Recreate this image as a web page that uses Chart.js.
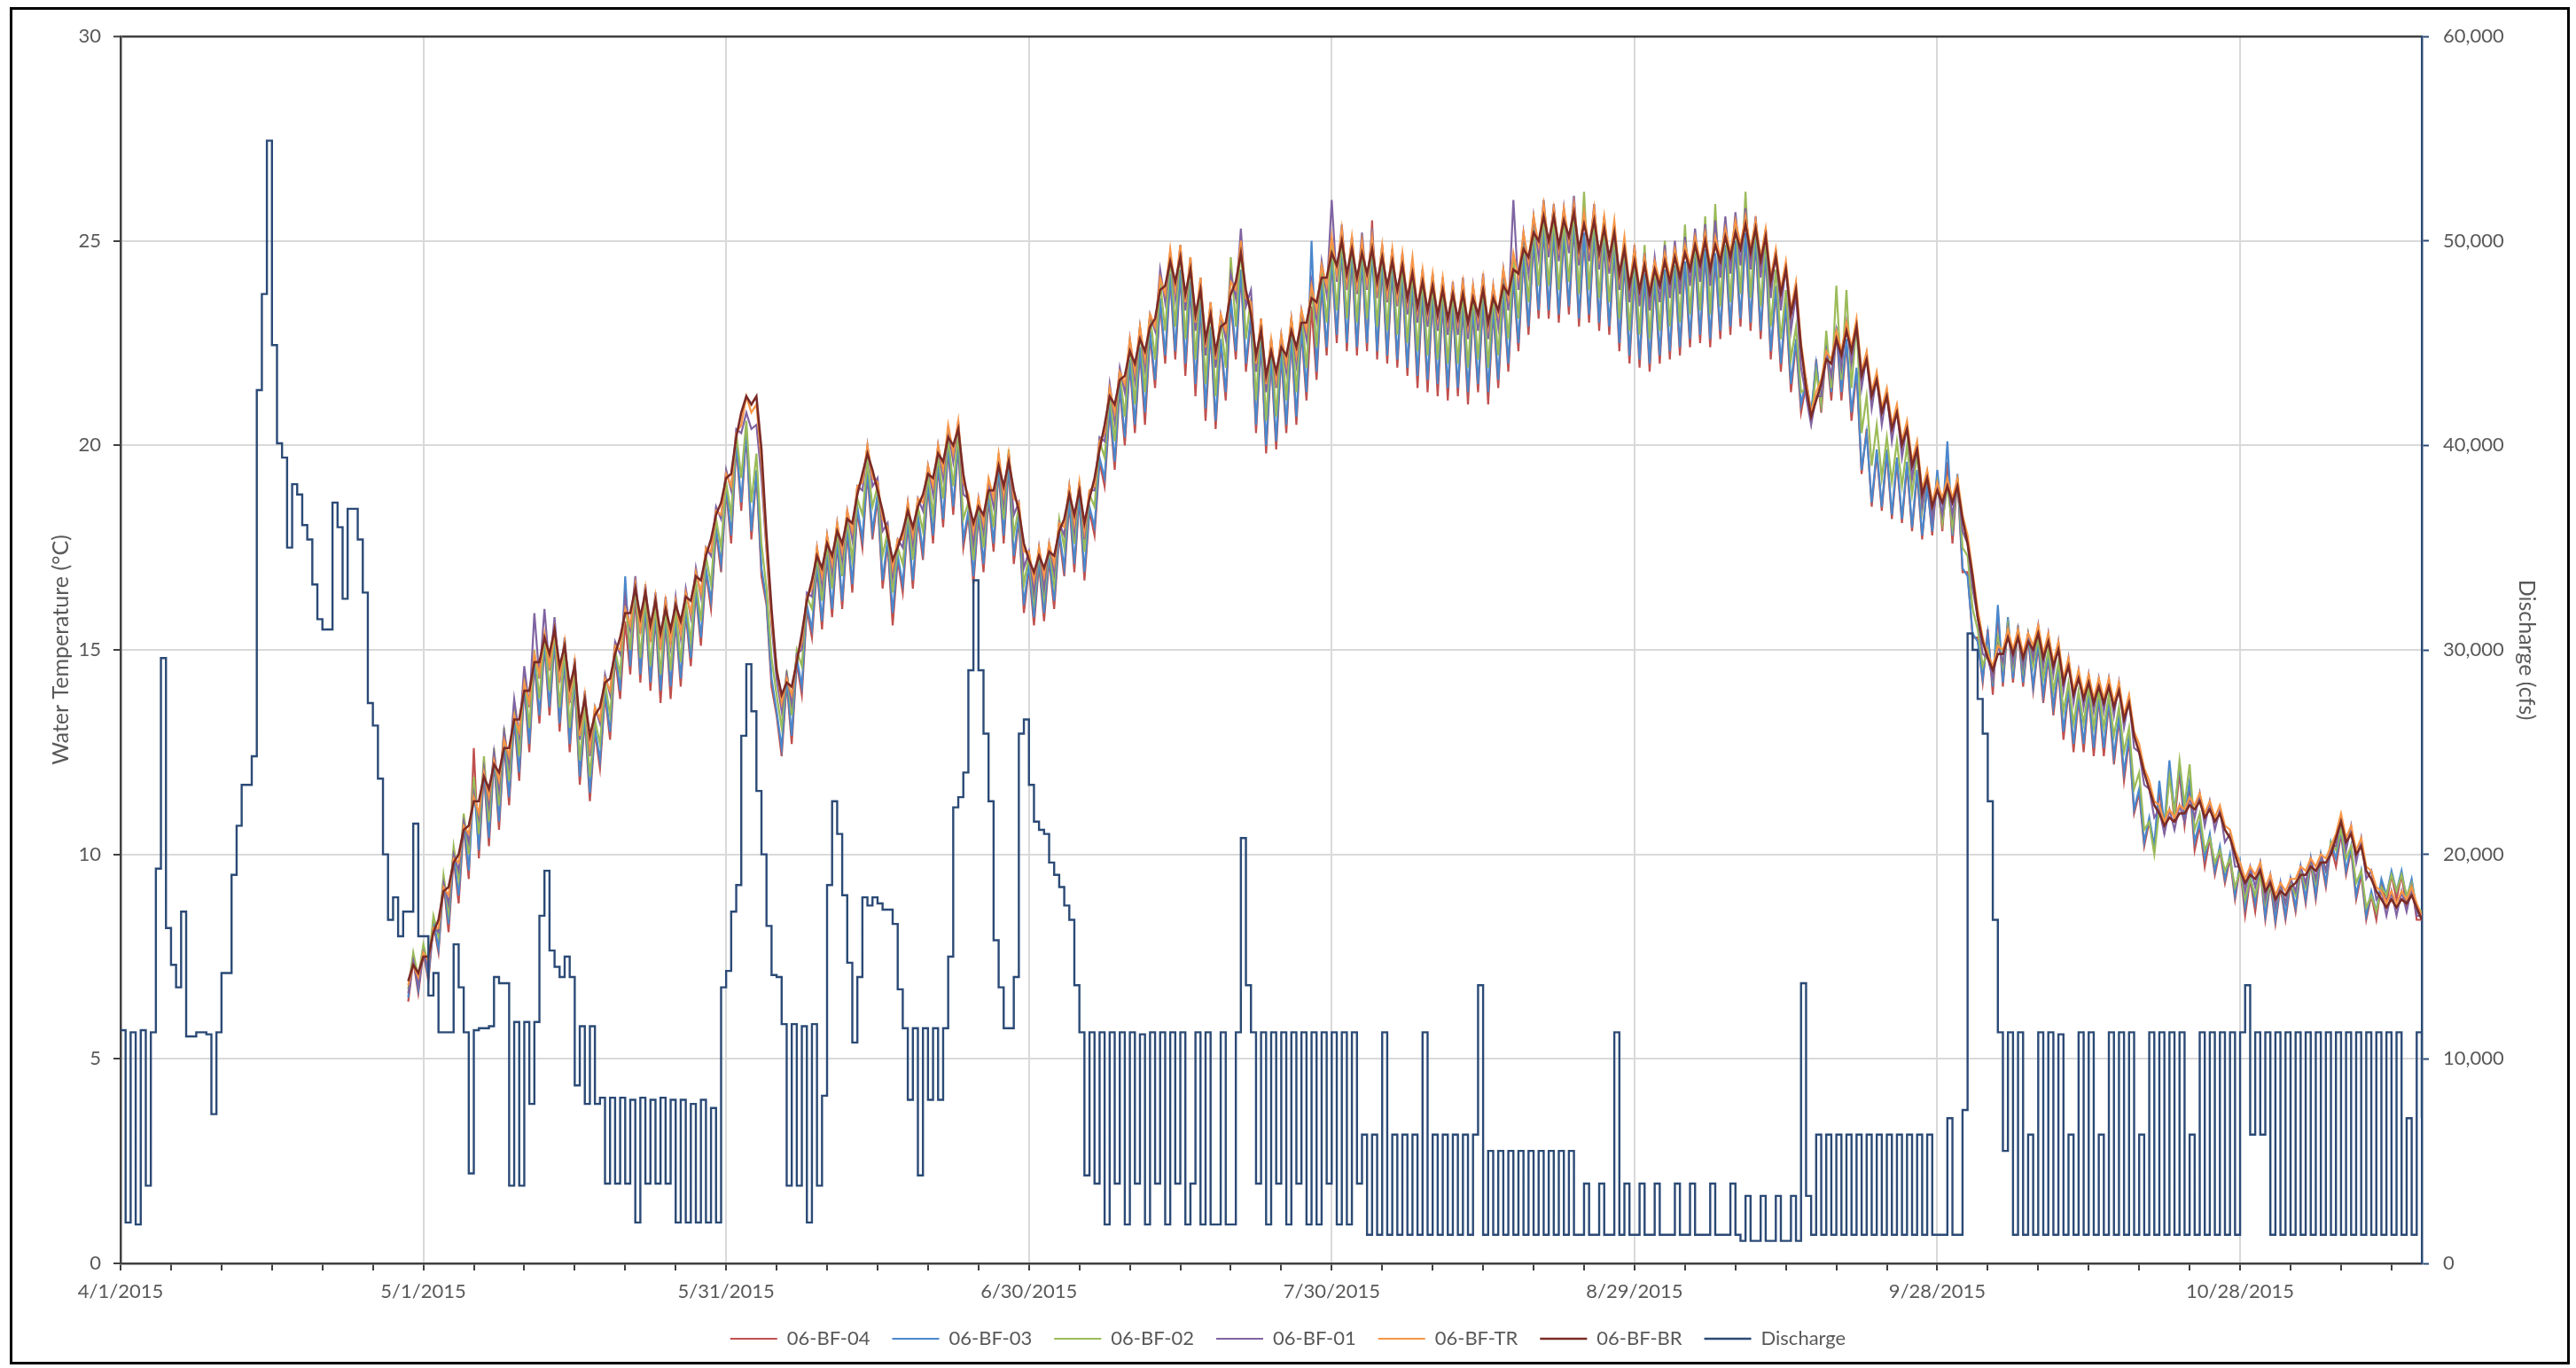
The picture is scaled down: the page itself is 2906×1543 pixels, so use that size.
<!DOCTYPE html>
<html>
<head>
<meta charset="utf-8">
<title>Water temperature and discharge, 2015</title>
<script src="https://cdn.jsdelivr.net/npm/chart.js@4.4.1/dist/chart.umd.min.js"></script>
<style>
  html, body { margin: 0; padding: 0; background: #ffffff; }
  #wrap { position: absolute; left: 0; top: 0; width: 2906px; height: 1543px; }
  #frame { position: absolute; left: 11px; top: 8px; width: 2888px; height: 1531px;
           border: 3px solid #000; box-sizing: border-box; }
  #chart { position: absolute; left: 0; top: 0; }
</style>
</head>
<body>
<div id="wrap">
  <div id="frame"></div>
  <canvas id="chart" width="2906" height="1543"></canvas>
</div>
<script>
// Day 0 is 4/1/2015. Temperature loggers: one reading every half day from day 28.5.
const tempStartDay = 28.5;
const tempStepDays = 0.5;
// Discharge: one reading every half day from day 0.
const dischargeStartDay = 0;
const dischargeStepDays = 0.5;
const axisEndDay = 228;
const dateTickDays = [0, 30, 60, 90, 120, 150, 180, 210];

const seriesNames = ['06-BF-04', '06-BF-03', '06-BF-02', '06-BF-01', '06-BF-TR', '06-BF-BR', 'Discharge'];
const seriesColors = ['#C0504D', '#4A87CC', '#9BBB59', '#8064A2', '#F79646', '#7A2B27', '#2B4A76'];

const bf04 = [
6.4,7.4,6.6,7.6,6.9,8.3,7.6,9.3,8.1,9.9,8.8,10.7,9.4,12.6,9.9,12.0,10.2,12.3,10.6,12.7,
11.2,13.3,11.8,14.1,12.5,14.7,13.2,15.1,13.4,15.2,13.0,14.7,12.5,14.2,11.7,13.3,11.3,13.0,12.1,13.9,
12.8,14.8,13.8,15.7,14.4,16.3,14.2,16.0,14.0,15.8,13.7,15.7,13.8,15.7,14.1,15.9,14.6,16.4,15.1,16.9,
16.0,17.9,16.9,18.9,17.6,20.0,18.4,20.3,17.7,19.3,16.8,16.1,14.1,13.4,12.4,14.2,12.7,14.7,13.9,16.0,
15.3,17.0,15.5,17.3,15.8,17.6,16.0,17.9,16.4,18.4,17.5,19.3,17.7,18.7,16.5,17.6,15.6,17.2,16.4,18.1,
16.5,18.2,17.2,19.0,17.6,19.5,18.0,19.9,18.3,20.0,17.5,18.3,16.6,18.3,16.9,18.7,17.4,19.4,17.6,19.5,
17.1,18.2,15.9,17.0,15.6,17.1,15.7,17.2,16.0,17.8,16.8,18.6,16.9,18.7,16.7,18.4,17.8,19.6,19.0,20.9,
19.4,21.4,20.0,22.0,20.3,22.3,20.5,22.7,21.4,23.5,22.0,24.1,22.1,24.2,21.7,23.9,21.2,23.4,20.6,22.8,
20.4,22.5,21.1,23.5,22.1,24.2,21.8,23.1,20.3,22.5,19.8,22.1,19.9,22.2,20.3,22.6,20.5,22.8,21.1,23.4,
21.6,23.9,22.2,24.5,22.5,24.8,22.3,24.6,22.2,24.5,22.3,25.5,22.1,24.4,22.0,24.3,21.9,24.1,21.7,23.9,
21.4,23.7,21.3,23.6,21.2,23.5,21.1,23.4,21.2,23.4,21.0,23.3,21.3,23.5,21.0,23.3,21.4,23.7,21.8,24.1,
22.3,24.6,22.7,25.0,23.1,25.3,23.1,25.2,23.0,25.1,23.2,25.4,22.9,25.1,23.0,25.2,22.8,25.0,22.7,24.8,
22.3,24.5,22.0,24.2,21.9,24.1,21.8,24.0,22.0,24.2,22.1,24.3,22.2,24.4,22.4,24.6,22.5,24.7,22.4,24.6,
22.6,24.8,22.7,24.9,22.9,25.1,22.8,25.0,22.6,24.7,22.1,23.8,21.8,23.4,21.3,22.5,20.8,21.5,20.6,22.1,
20.8,22.4,21.1,22.8,21.1,22.5,20.6,21.8,19.3,20.4,18.5,19.8,18.4,19.8,18.2,19.6,18.1,19.5,17.9,19.3,
17.7,19.1,17.8,19.3,17.9,19.6,17.6,19.2,16.9,16.9,15.3,15.3,14.2,15.5,13.9,15.9,14.1,15.7,14.2,15.5,
14.1,15.3,14.0,15.1,13.7,14.8,13.4,14.5,12.8,14.0,12.5,13.8,12.5,13.9,12.4,13.8,12.4,13.7,12.2,13.3,
11.8,12.8,11.0,11.5,10.2,10.8,10.1,11.6,10.5,12.1,10.8,12.0,10.7,11.7,10.1,10.7,9.7,10.4,9.5,10.1,
9.3,9.9,8.9,9.7,8.5,9.4,8.6,9.6,8.4,9.3,8.3,9.2,8.4,9.3,8.6,9.6,8.8,9.8,8.9,9.9,
9.2,10.2,9.7,10.5,9.5,10.1,8.9,9.5,8.4,9.0,8.4,9.3,8.8,9.5,8.9,9.5,8.7,9.3,8.4,8.4
];

const bf03 = [
6.5,7.5,6.7,7.7,7.0,8.4,7.7,9.4,8.3,10.0,9.0,10.8,9.6,11.7,10.1,12.1,10.4,12.4,10.8,12.8,
11.4,13.4,12.0,14.2,12.7,14.8,13.4,15.2,13.6,15.3,13.2,14.8,12.7,14.3,11.9,13.4,11.5,13.1,12.3,14.0,
13.0,15.0,14.0,16.8,14.6,16.6,14.4,16.1,14.2,15.9,14.0,15.8,14.1,15.8,14.3,16.0,14.8,16.5,15.3,17.0,
16.2,18.0,17.1,19.0,17.8,20.1,18.6,20.4,17.9,19.4,17.0,16.2,14.3,13.5,12.6,14.3,12.9,14.8,14.1,16.1,
15.5,17.1,15.7,17.4,16.0,17.7,16.2,18.0,16.6,18.5,17.7,19.4,17.9,18.8,16.7,17.7,15.9,17.3,16.6,18.2,
16.7,18.3,17.4,19.1,17.8,19.6,18.2,20.0,18.5,20.1,17.7,18.4,16.8,18.4,17.1,18.8,17.6,19.5,17.8,19.6,
17.3,18.3,16.1,17.1,15.8,17.2,15.9,17.3,16.2,17.9,17.0,18.7,17.1,18.8,16.9,18.5,18.0,19.7,19.2,21.0,
19.6,21.5,20.2,22.1,20.5,22.4,20.8,22.8,21.6,23.6,22.2,24.2,22.3,24.3,22.0,24.0,21.5,23.5,20.9,22.9,
20.6,22.6,21.3,23.6,22.3,24.3,22.0,23.2,20.5,22.6,20.0,22.2,20.1,22.3,20.5,22.7,20.7,22.9,21.3,25.0,
21.8,24.0,22.4,24.6,22.7,24.9,22.5,24.7,22.4,24.6,22.5,24.7,22.3,24.5,22.2,24.4,22.1,24.2,21.9,24.0,
21.7,23.8,21.6,23.7,21.5,23.6,21.4,23.5,21.4,23.5,21.3,23.4,21.5,23.6,21.3,23.4,21.6,23.8,22.0,24.2,
22.5,24.7,22.9,25.1,23.3,25.4,23.3,25.3,23.2,25.2,23.4,25.5,23.1,25.2,23.2,25.3,23.0,25.1,22.9,24.9,
22.5,24.6,22.2,24.3,22.1,24.2,22.0,24.1,22.2,24.3,22.3,24.4,22.4,24.5,22.6,24.7,22.7,24.8,22.6,24.7,
22.8,24.9,22.9,25.0,23.1,25.2,23.0,25.1,22.8,24.8,22.3,23.9,22.0,23.5,21.5,22.6,21.0,21.6,20.8,22.0,
21.0,22.5,21.3,22.9,21.3,22.6,20.8,21.9,19.4,20.3,18.6,19.9,18.5,19.9,18.3,19.7,18.2,19.6,18.0,19.4,
17.8,19.0,17.9,19.4,18.1,20.1,17.8,19.3,17.0,16.8,15.4,15.2,14.3,15.4,14.1,16.1,14.2,15.8,14.3,15.6,
14.2,15.4,14.1,15.2,13.9,14.9,13.6,14.6,13.0,14.1,12.7,13.9,12.7,14.0,12.6,13.9,12.6,13.8,12.4,13.4,
12.0,12.9,11.1,11.6,10.3,10.9,10.2,11.8,10.7,12.3,11.0,12.2,10.9,11.8,10.3,10.8,9.9,10.5,9.6,10.2,
9.4,10.0,9.0,9.8,8.7,9.5,8.8,9.7,8.5,9.4,8.4,9.3,8.5,9.4,8.7,9.7,8.9,9.9,9.0,10.0,
9.3,10.3,9.9,10.6,9.6,10.2,9.0,9.6,8.5,9.1,8.6,9.4,9.0,9.6,9.1,9.6,8.9,9.4,8.6,8.5
];

const bf02 = [
6.7,7.6,7.0,7.8,7.3,8.5,8.0,9.5,8.6,10.2,9.4,11.0,10.0,11.9,10.5,12.4,10.8,12.6,11.2,13.1,
11.8,13.7,12.4,14.4,13.1,15.0,13.8,15.4,14.0,15.5,13.6,15.0,13.1,14.5,12.3,13.6,11.9,13.3,12.7,14.2,
13.4,15.0,14.4,16.2,15.0,16.6,14.8,16.3,14.6,16.1,14.4,16.0,14.5,16.0,14.7,16.2,15.2,16.7,15.7,17.3,
16.6,18.2,17.5,19.1,18.3,20.3,19.2,20.6,18.6,19.8,17.6,16.5,14.8,13.9,13.1,14.5,13.4,15.0,14.6,16.3,
16.0,17.3,16.2,17.6,16.5,17.9,16.8,18.2,17.2,18.7,18.3,19.6,18.5,19.0,17.3,17.9,16.4,17.5,17.1,18.4,
17.2,18.5,17.9,19.3,18.3,19.8,18.7,20.2,19.0,20.3,18.2,18.6,17.2,18.6,17.5,19.0,18.0,19.8,18.2,19.9,
17.8,18.5,16.6,17.3,16.2,17.4,16.3,17.5,16.6,18.2,17.5,19.0,17.6,19.1,17.4,18.8,18.5,20.1,19.7,21.3,
20.1,21.8,20.7,22.5,21.0,22.9,21.3,23.2,22.1,24.0,22.8,24.6,22.9,24.8,22.6,24.5,22.1,24.0,21.5,23.4,
21.2,23.1,21.9,24.6,22.9,24.9,22.6,23.6,21.1,23.0,20.6,22.6,20.7,22.7,21.1,23.1,21.3,23.3,21.9,23.9,
22.4,24.4,23.0,24.9,23.3,25.1,23.1,25.0,23.0,24.9,23.1,25.0,22.9,24.8,22.8,24.7,22.7,24.5,22.5,24.3,
22.3,24.1,22.2,24.0,22.1,23.9,22.0,23.8,22.0,23.8,21.9,23.7,22.1,24.0,21.9,23.7,22.2,24.1,22.6,24.6,
23.1,25.1,23.5,25.4,23.9,25.7,23.9,25.6,23.8,25.5,24.0,25.8,23.7,26.2,23.8,25.6,23.6,25.4,23.5,25.2,
23.1,24.9,22.8,24.7,22.7,24.9,22.6,24.5,22.8,25.0,22.9,24.9,23.0,25.4,23.2,25.1,23.3,25.6,23.2,25.9,
23.4,25.4,23.5,25.6,23.7,26.2,23.6,25.5,23.4,25.1,22.9,24.3,22.6,23.8,22.1,22.9,21.3,21.4,20.6,21.8,
21.0,22.8,21.4,23.9,21.6,23.8,21.4,23.0,20.3,21.2,19.5,20.5,19.2,20.2,19.1,20.1,19.0,20.0,18.8,19.8,
18.4,19.3,18.3,19.1,18.1,19.0,18.0,19.2,17.5,17.3,16.0,15.5,14.6,15.0,14.3,15.3,14.6,15.6,14.6,15.5,
14.5,15.4,14.6,15.3,14.3,15.0,14.0,14.7,13.5,14.2,13.2,14.0,13.2,14.1,13.1,14.0,13.1,13.9,12.9,13.6,
12.5,13.1,11.6,12.0,10.6,10.8,10.0,11.1,10.6,11.9,11.0,12.3,11.2,12.2,10.6,11.0,10.1,10.4,9.8,10.1,
9.6,9.9,9.2,9.6,8.9,9.4,9.0,9.5,8.8,9.3,8.7,9.2,8.8,9.3,9.0,9.6,9.2,9.8,9.3,10.0,
9.6,10.3,10.1,10.6,9.9,10.2,9.3,9.6,8.7,9.0,8.6,9.2,9.0,9.5,9.1,9.5,9.0,9.3,8.7,8.6
];

const bf01 = [
6.6,7.4,6.8,7.6,7.2,8.2,8.1,9.3,8.8,10.0,9.6,10.8,10.3,11.5,10.9,12.1,11.2,12.5,11.6,13.0,
12.2,13.8,12.9,14.6,13.6,15.9,14.3,16.0,14.5,15.8,14.2,15.3,13.7,14.8,12.8,14.0,12.4,13.6,13.2,14.4,
13.9,15.2,14.9,16.3,15.5,16.8,15.4,16.6,15.2,16.4,15.0,16.3,15.1,16.3,15.3,16.5,15.8,17.0,16.3,17.5,
17.3,18.5,18.2,19.4,18.9,20.4,20.3,20.8,20.4,20.5,19.2,17.4,15.6,14.3,13.5,14.4,13.7,14.9,15.0,16.4,
16.3,17.5,16.6,17.8,16.9,18.1,17.2,18.4,17.7,19.0,18.9,20.0,19.0,19.2,17.9,18.1,16.8,17.7,17.5,18.6,
17.6,18.7,18.4,19.5,18.8,20.0,19.2,20.4,19.6,20.6,18.8,18.7,17.6,18.7,17.9,19.1,18.5,19.7,18.6,19.8,
18.3,18.6,17.0,17.4,16.4,17.5,16.5,17.6,16.9,18.1,17.8,19.0,17.9,19.1,17.7,18.9,18.9,20.2,20.1,21.5,
20.6,21.9,21.3,22.6,21.6,22.9,21.9,23.2,22.8,24.3,23.5,24.7,23.6,24.9,23.3,24.6,22.8,24.1,22.2,23.5,
21.9,23.2,22.6,24.2,23.6,25.3,23.4,23.8,21.8,23.1,21.3,22.6,21.4,22.7,21.8,23.1,22.0,23.3,22.6,24.0,
23.1,24.5,23.7,26.0,24.0,25.4,23.8,25.1,23.7,25.2,23.8,25.3,23.6,24.9,23.5,24.8,23.4,24.7,23.2,24.5,
23.0,24.3,22.9,24.2,22.8,24.1,22.7,24.0,22.7,24.1,22.6,23.9,22.8,24.2,22.6,23.9,22.9,24.3,23.3,26.0,
23.8,25.2,24.2,25.6,24.6,26.0,24.6,25.9,24.5,25.8,24.7,26.1,24.4,25.7,24.5,25.9,24.3,25.6,24.2,25.4,
23.8,25.0,23.5,24.9,23.4,24.7,23.3,24.6,23.5,24.9,23.6,25.0,23.7,25.1,23.9,25.3,24.0,25.4,23.9,25.5,
24.1,25.6,24.2,25.7,24.4,25.8,24.3,25.6,24.1,25.3,23.6,24.8,23.3,24.4,22.8,23.7,21.9,21.2,20.5,21.2,
21.2,22.3,21.7,22.8,21.9,23.0,22.0,23.0,21.4,22.2,20.9,21.7,20.5,21.3,20.1,20.9,19.7,20.5,19.2,20.0,
18.5,19.3,18.2,19.0,18.3,19.1,18.3,19.1,17.9,17.6,16.5,15.8,14.9,14.8,14.3,15.1,14.7,15.5,14.7,15.5,
14.6,15.4,14.8,15.6,14.6,15.4,14.4,15.2,14.0,14.8,13.7,14.5,13.6,14.4,13.5,14.3,13.5,14.3,13.4,14.2,
13.1,13.8,12.6,12.5,11.7,11.6,10.9,11.1,10.5,11.1,10.6,11.2,10.8,11.4,10.9,11.5,10.7,11.3,10.6,11.1,
10.3,10.5,9.7,9.7,9.1,9.7,9.2,9.8,8.9,9.5,8.7,9.3,8.8,9.4,9.1,9.7,9.3,9.9,9.4,10.0,
9.6,10.2,10.2,10.9,10.1,10.7,9.8,10.4,9.4,9.6,8.9,9.1,8.5,9.1,8.5,9.1,8.6,9.2,8.5,8.5
];

const bfTR = [
6.8,7.3,7.0,7.6,7.4,8.2,8.2,9.2,9.0,9.9,9.8,10.7,10.5,11.4,11.0,12.0,11.4,12.3,11.8,12.8,
12.4,13.4,13.0,14.2,13.7,14.9,14.4,15.4,14.6,15.5,14.3,15.2,13.8,14.7,12.9,13.9,12.6,13.6,13.3,14.3,
14.0,15.1,15.0,16.0,15.6,16.6,15.5,16.5,15.3,16.3,15.1,16.2,15.2,16.2,15.4,16.4,15.9,16.9,16.4,17.5,
17.4,18.4,18.3,19.3,19.0,20.3,20.5,21.2,20.8,21.0,19.6,17.5,15.7,14.6,13.7,14.3,13.9,14.8,15.2,16.3,
16.5,17.5,16.8,17.8,17.1,18.1,17.4,18.4,17.9,19.0,19.1,20.0,19.2,19.1,18.2,18.0,17.0,17.7,17.7,18.6,
17.8,18.7,18.6,19.5,19.0,20.0,19.4,20.5,19.8,20.6,19.1,18.8,17.9,18.7,18.1,19.2,18.7,19.8,18.8,19.8,
18.7,18.6,17.4,17.4,16.7,17.5,16.8,17.6,17.1,18.1,18.0,19.0,18.1,19.1,17.9,18.9,19.0,20.1,20.3,21.4,
20.8,21.8,21.5,22.6,21.8,22.9,22.1,23.2,22.9,24.1,23.7,24.8,23.8,24.9,23.5,24.6,23.0,24.1,22.4,23.5,
22.1,23.2,22.8,24.0,23.8,25.0,23.6,23.5,22.0,23.1,21.5,22.6,21.6,22.7,22.0,23.1,22.2,23.3,22.8,23.9,
23.3,24.4,23.9,25.1,24.2,25.3,24.0,25.1,23.9,25.0,24.0,25.1,23.8,24.9,23.7,24.8,23.6,24.7,23.5,24.6,
23.3,24.3,23.2,24.2,23.1,24.1,23.0,23.9,23.0,24.0,22.9,23.9,23.1,24.1,22.9,23.9,23.2,24.3,23.6,24.7,
24.1,25.2,24.5,25.6,24.9,25.9,24.9,25.8,24.8,25.8,25.0,25.9,24.7,25.7,24.8,25.8,24.6,25.6,24.5,25.5,
24.1,25.1,23.9,24.8,23.8,24.6,23.8,24.5,24.0,24.7,24.1,24.8,24.2,24.9,24.4,25.1,24.5,25.2,24.4,25.1,
24.6,25.3,24.7,25.5,24.9,25.6,24.8,25.5,24.6,25.3,24.1,24.8,23.8,24.5,23.3,24.0,22.5,21.6,20.8,21.3,
21.6,22.3,22.1,22.8,22.3,23.0,22.4,23.1,21.8,22.3,21.3,21.8,20.9,21.4,20.5,21.0,20.1,20.6,19.6,20.1,
18.9,19.4,18.6,19.1,18.7,19.2,18.7,19.2,18.3,17.8,16.9,16.0,15.3,14.9,14.6,15.1,15.0,15.5,15.0,15.5,
14.9,15.4,15.1,15.6,14.9,15.4,14.7,15.2,14.3,14.8,14.0,14.5,13.9,14.4,13.8,14.3,13.8,14.3,13.7,14.2,
13.4,13.9,13.0,12.7,12.1,11.8,11.3,11.2,10.8,11.1,10.9,11.2,11.1,11.4,11.2,11.5,11.0,11.3,10.9,11.2,
10.7,10.6,10.1,9.8,9.4,9.7,9.5,9.8,9.2,9.5,9.0,9.3,9.1,9.4,9.4,9.7,9.6,9.9,9.7,10.0,
9.9,10.2,10.5,11.0,10.4,10.7,10.1,10.4,9.7,9.6,9.2,9.1,8.8,9.1,8.8,9.1,8.9,9.2,8.8,8.5
];

const bfBR = [
6.9,7.3,7.1,7.5,7.5,8.1,8.4,9.1,9.2,9.8,10.0,10.6,10.7,11.3,11.3,11.9,11.6,12.2,12.0,12.6,
12.6,13.3,13.3,14.0,14.0,14.7,14.7,15.3,14.9,15.5,14.6,15.1,14.1,14.6,13.2,13.8,12.9,13.4,13.6,14.2,
14.3,14.9,15.3,15.9,15.9,16.5,15.8,16.4,15.6,16.2,15.4,16.0,15.5,16.1,15.7,16.3,16.2,16.8,16.7,17.3,
17.7,18.3,18.6,19.2,19.3,20.2,20.8,21.2,21.0,21.2,19.9,17.8,16.0,14.5,13.9,14.2,14.1,14.7,15.4,16.2,
16.7,17.3,17.0,17.6,17.3,17.9,17.6,18.2,18.1,18.8,19.3,19.8,19.4,18.9,18.4,17.8,17.2,17.5,17.9,18.4,
18.0,18.5,18.8,19.3,19.2,19.8,19.6,20.2,20.0,20.4,19.3,18.6,18.1,18.5,18.3,18.9,18.9,19.5,19.0,19.6,
18.9,18.4,17.6,17.2,16.9,17.3,17.0,17.4,17.3,17.9,18.2,18.8,18.3,18.9,18.1,18.7,19.2,19.9,20.5,21.2,
21.0,21.6,21.7,22.3,22.0,22.6,22.3,22.9,23.1,23.8,23.9,24.5,24.0,24.6,23.7,24.3,23.2,23.8,22.6,23.2,
22.3,22.9,23.0,23.7,24.0,24.7,23.8,23.2,22.2,22.8,21.7,22.3,21.8,22.4,22.2,22.8,22.4,23.0,23.0,23.6,
23.5,24.1,24.1,24.7,24.4,25.0,24.2,24.8,24.1,24.7,24.2,24.8,24.0,24.6,23.9,24.5,23.8,24.4,23.6,24.2,
23.4,24.0,23.3,23.9,23.2,23.8,23.1,23.7,23.1,23.7,23.0,23.6,23.2,23.8,23.0,23.6,23.3,23.9,23.7,24.3,
24.2,24.8,24.6,25.2,25.0,25.6,25.0,25.6,24.9,25.5,25.1,25.7,24.8,25.4,24.9,25.5,24.7,25.3,24.6,25.2,
24.2,24.8,23.9,24.5,23.8,24.4,23.7,24.3,23.9,24.5,24.0,24.6,24.1,24.7,24.3,24.9,24.4,25.0,24.3,24.9,
24.5,25.1,24.6,25.2,24.8,25.4,24.7,25.3,24.5,25.1,24.0,24.6,23.7,24.3,23.2,23.8,22.4,21.4,20.7,21.1,
21.5,22.1,22.0,22.6,22.2,22.8,22.3,22.9,21.7,22.1,21.2,21.6,20.8,21.2,20.4,20.8,20.0,20.4,19.5,19.9,
18.8,19.2,18.5,18.9,18.6,19.0,18.6,19.0,18.2,17.6,16.8,15.8,15.2,14.8,14.5,14.9,14.9,15.3,14.9,15.3,
14.8,15.2,15.0,15.4,14.8,15.2,14.6,15.0,14.2,14.6,13.9,14.3,13.8,14.2,13.7,14.1,13.7,14.1,13.6,14.0,
13.3,13.7,12.9,12.5,12.0,11.6,11.2,11.0,10.7,10.9,10.8,11.0,11.0,11.2,11.1,11.3,10.9,11.1,10.8,11.0,
10.6,10.4,10.0,9.6,9.3,9.5,9.4,9.6,9.1,9.3,8.9,9.1,9.0,9.2,9.3,9.5,9.5,9.7,9.6,9.8,
9.8,10.0,10.4,10.8,10.3,10.5,10.0,10.2,9.6,9.4,9.1,8.9,8.7,8.9,8.7,8.9,8.8,9.0,8.7,8.4
];

// Discharge in cfs
const discharge = [
11400,2000,11300,1900,11400,3800,11300,19300,29600,16400,
14600,13500,17200,11100,11100,11300,11300,11200,7300,11300,
14200,14200,19000,21400,23400,23400,24800,42700,47400,54900,
44900,40100,39400,35000,38100,37600,36100,35400,33200,31500,
31000,31000,37200,36000,32500,36900,36900,35400,32800,27400,
26300,23700,20000,16800,17900,16000,17200,17200,21500,16000,
16000,13100,14200,11300,11300,11300,15600,13500,11300,4400,
11400,11500,11500,11600,14000,13700,13700,3800,11800,3800,
11800,7800,11800,17000,19200,15300,14500,14000,15000,14000,
8700,11600,7800,11600,7800,8100,3900,8100,3900,8100,
3900,8000,2000,8100,3900,8000,3900,8100,3900,8000,
2000,8000,2000,7800,2000,8000,2000,7600,2000,13500,
14300,17200,18500,25800,29300,27000,23100,20000,16500,14100,
14000,11700,3800,11700,3800,11600,2000,11700,3800,8200,
18500,22600,21000,18000,14700,10800,14000,17900,17500,17900,
17600,17300,17300,16600,13400,11500,8000,11500,4300,11500,
8000,11500,8000,11500,15000,22300,22800,24000,29000,33400,
29000,25900,22600,15800,13500,11500,11500,14000,25900,26600,
23400,21600,21200,21000,19600,19000,18400,17500,16800,13600,
11300,4300,11300,3900,11300,1900,11300,3900,11300,1900,
11300,3900,11200,1900,11300,3900,11300,1900,11300,3900,
11300,1900,3900,11300,1900,11300,1900,1900,11300,1900,
1900,11300,20800,13600,11300,3900,11300,1900,11300,3900,
11300,1900,11300,3900,11300,1900,11300,1900,11300,3900,
11300,1900,11300,1900,11300,3900,6300,1400,6300,1400,
11300,1400,6300,1400,6300,1400,6300,1400,11300,1400,
6300,1400,6300,1400,6300,1400,6300,1400,6300,13600,
1400,5500,1400,5500,1400,5500,1400,5500,1400,5500,
1400,5500,1400,5500,1400,5500,1400,5500,1400,1400,
3900,1400,1400,3900,1400,1400,11300,1400,3900,1400,
1400,3900,1400,1400,3900,1400,1400,1400,3900,1400,
1400,3900,1400,1400,1400,3900,1400,1400,1400,3900,
1400,1100,3300,1100,1100,3300,1100,1100,3300,1100,
1100,3300,1100,13700,3300,1400,6300,1400,6300,1400,
6300,1400,6300,1400,6300,1400,6300,1400,6300,1400,
6300,1400,6300,1400,6300,1400,6300,1400,6300,1400,
1400,1400,7100,1400,1400,7500,30800,30000,27600,25900,
22600,16800,11300,5500,11300,1400,11300,1400,6300,1400,
11300,1400,11300,1400,11200,1400,6300,1400,11300,1400,
11300,1400,6300,1400,11300,1400,11300,1400,11300,1400,
6300,1400,11300,1400,11300,1400,11300,1400,11300,1400,
6300,1400,11300,1400,11300,1400,11300,1400,11300,1400,
11300,13600,6300,11300,6300,11300,1400,11300,1400,11300,
1400,11300,1400,11300,1400,11300,1400,11300,1400,11300,
1400,11300,1400,11300,1400,11300,1400,11300,1400,11300,
1400,11300,1400,7100,1400,11300,7100
];

const tempSeries = [bf04, bf03, bf02, bf01, bfTR, bfBR];

const GRAY_TEXT = '#595959';
const AXIS_DARK = '#404040';
const GRID_LIGHT = '#D9D9D9';
const FONT = 'Lato';

function dayLabel(day) {
  const d = new Date(2015, 3, 1 + day);
  return (d.getMonth() + 1) + '/' + d.getDate() + '/' + d.getFullYear();
}

function toPoints(values, start, step) {
  return values.map((v, i) => ({ x: start + i * step, y: v }));
}

const datasets = tempSeries.map((values, k) => ({
  label: seriesNames[k],
  data: toPoints(values, tempStartDay, tempStepDays),
  borderColor: seriesColors[k],
  backgroundColor: seriesColors[k],
  borderWidth: k === 5 ? 2.6 : 2.2,
  pointRadius: 0,
  tension: 0,
  yAxisID: 'y',
  order: 6 - k
}));

datasets.push({
  label: seriesNames[6],
  data: toPoints(discharge, dischargeStartDay, dischargeStepDays),
  borderColor: seriesColors[6],
  backgroundColor: seriesColors[6],
  borderWidth: 2.4,
  pointRadius: 0,
  stepped: true,
  yAxisID: 'y1',
  order: 0
});

Chart.defaults.font.family = FONT;

new Chart(document.getElementById('chart'), {
  type: 'line',
  data: { datasets },
  options: {
    responsive: false,
    animation: false,
    devicePixelRatio: 1,
    layout: { padding: { top: 41, bottom: 12, left: 0, right: 0 } },
    plugins: {
      tooltip: { enabled: false },
      legend: {
        position: 'bottom',
        labels: {
          usePointStyle: true,
          pointStyle: 'line',
          pointStyleWidth: 53,
          color: GRAY_TEXT,
          font: { family: FONT, size: 22 },
          padding: 25,
          sort: (a, b) => a.datasetIndex - b.datasetIndex
        }
      }
    },
    scales: {
      x: {
        type: 'linear',
        bounds: 'data',
        min: 0,
        max: axisEndDay,
        ticks: {
          stepSize: 5,
          includeBounds: false,
          autoSkip: false,
          maxRotation: 0,
          color: GRAY_TEXT,
          font: { family: FONT, size: 22 },
          padding: 11,
          callback: v => dateTickDays.includes(v) ? dayLabel(v) : ''
        },
        grid: {
          color: c => (c.tick && c.tick.value % 30 === 0 && c.tick.value > 0) ? GRID_LIGHT : 'rgba(0,0,0,0)',
          lineWidth: 2,
          tickColor: c => (c.tick && c.tick.value > 225) ? 'rgba(0,0,0,0)' : AXIS_DARK,
          tickLength: 8,
          tickWidth: 2
        },
        border: { color: AXIS_DARK, width: 2.5 },
        afterFit: s => { s.height = 49; }
      },
      y: {
        position: 'left',
        min: 0,
        max: 30,
        ticks: { stepSize: 5, color: GRAY_TEXT, font: { family: FONT, size: 22 }, padding: 14 },
        grid: {
          color: c => c.tick.value === 30 ? AXIS_DARK : (c.tick.value === 0 ? 'rgba(0,0,0,0)' : GRID_LIGHT),
          lineWidth: c => c.tick.value === 30 ? 2.5 : 2,
          tickColor: AXIS_DARK,
          tickLength: 8,
          tickWidth: 2
        },
        border: { color: AXIS_DARK, width: 2.5 },
        title: {
          display: true,
          text: 'Water Temperature (°C)',
          color: GRAY_TEXT,
          font: { family: FONT, size: 25 },
          padding: { top: 54, bottom: 0 }
        },
        afterFit: s => { s.width = 136; }
      },
      y1: {
        position: 'right',
        min: 0,
        max: 60000,
        ticks: {
          stepSize: 10000,
          color: GRAY_TEXT,
          font: { family: FONT, size: 22 },
          padding: 16,
          callback: v => v.toLocaleString('en-US')
        },
        grid: { drawOnChartArea: false, tickColor: '#2B4A76', tickLength: 8, tickWidth: 2 },
        border: { color: '#2B4A76', width: 2.5 },
        title: {
          display: true,
          text: 'Discharge (cfs)',
          color: GRAY_TEXT,
          font: { family: FONT, size: 25 },
          padding: { top: 41, bottom: 0 }
        },
        afterFit: s => { s.width = 174; }
      }
    }
  }
});
</script>
</body>
</html>
